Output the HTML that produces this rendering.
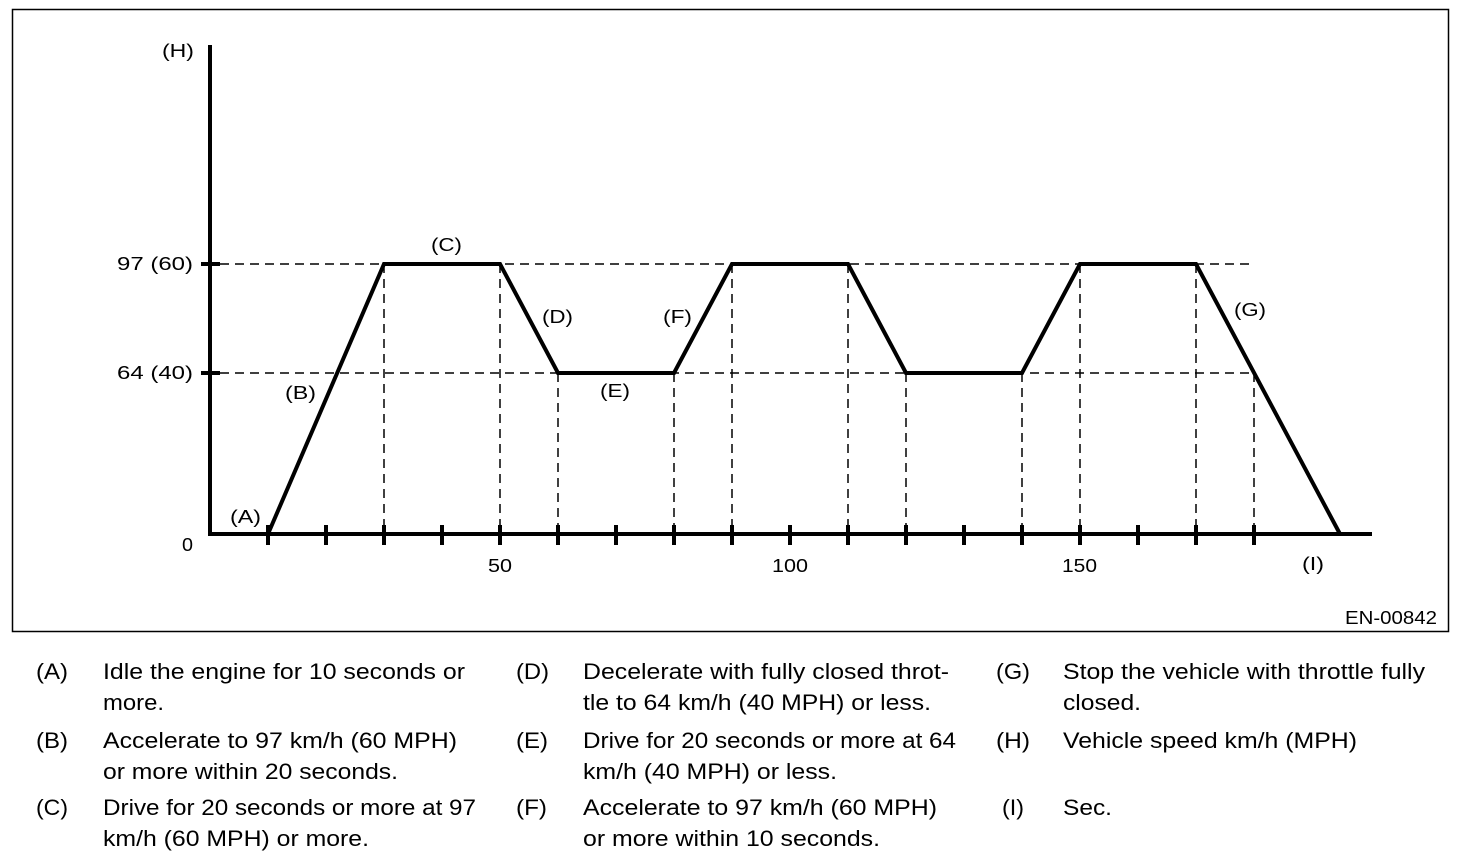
<!DOCTYPE html>
<html><head><meta charset="utf-8"><style>
body{margin:0;background:#fff;width:1472px;height:864px;overflow:hidden;font-family:"Liberation Sans",sans-serif;}
svg{position:absolute;left:0;top:0}
text{font-family:"Liberation Sans",sans-serif;fill:#000}
</style></head><body>
<svg width="1472" height="864" viewBox="0 0 1472 864">
<rect x="12.5" y="9.5" width="1436" height="622" fill="none" stroke="#000" stroke-width="1.5"/>
<g stroke="#000" stroke-width="1.5" stroke-dasharray="9,6" fill="none">
<line x1="220" y1="264" x2="1254" y2="264"/>
<line x1="220" y1="373" x2="1254" y2="373"/>
<line x1="384" y1="264" x2="384" y2="534"/>
<line x1="500" y1="264" x2="500" y2="534"/>
<line x1="558" y1="373" x2="558" y2="534"/>
<line x1="674" y1="373" x2="674" y2="534"/>
<line x1="732" y1="264" x2="732" y2="534"/>
<line x1="848" y1="264" x2="848" y2="534"/>
<line x1="906" y1="373" x2="906" y2="534"/>
<line x1="1022" y1="373" x2="1022" y2="534"/>
<line x1="1080" y1="264" x2="1080" y2="534"/>
<line x1="1196" y1="264" x2="1196" y2="534"/>
<line x1="1254" y1="373" x2="1254" y2="534"/>
</g>
<g stroke="#000" stroke-width="4" fill="none">
<line x1="210" y1="45" x2="210" y2="536"/>
<line x1="208" y1="534" x2="1372" y2="534"/>
<line x1="201" y1="264" x2="220" y2="264"/>
<line x1="201" y1="373" x2="220" y2="373"/>
<path d="M268,525V545M326,525V545M384,525V545M442,525V545M500,525V545M558,525V545M616,525V545M674,525V545M732,525V545M790,525V545M848,525V545M906,525V545M964,525V545M1022,525V545M1080,525V545M1138,525V545M1196,525V545M1254,525V545"/>
<polyline stroke-linejoin="miter" points="268,534 384,264 500,264 558,373 674,373 732,264 848,264 906,373 1022,373 1080,264 1196,264 1340,534"/>
</g>
<g font-size="18">
<text lengthAdjust="spacingAndGlyphs" x="162" y="57" textLength="32">(H)</text>
<text lengthAdjust="spacingAndGlyphs" x="117" y="270" textLength="76">97 (60)</text>
<text lengthAdjust="spacingAndGlyphs" x="117" y="379" textLength="76">64 (40)</text>
<text lengthAdjust="spacingAndGlyphs" x="182" y="551" textLength="11">0</text>
<text lengthAdjust="spacingAndGlyphs" x="488" y="572" textLength="24">50</text>
<text lengthAdjust="spacingAndGlyphs" x="772" y="572" textLength="36">100</text>
<text lengthAdjust="spacingAndGlyphs" x="1062" y="572" textLength="35">150</text>
<text lengthAdjust="spacingAndGlyphs" x="1302" y="570" textLength="22">(I)</text>
<text lengthAdjust="spacingAndGlyphs" x="230" y="523" textLength="31">(A)</text>
<text lengthAdjust="spacingAndGlyphs" x="285" y="399" textLength="31">(B)</text>
<text lengthAdjust="spacingAndGlyphs" x="431" y="251" textLength="31">(C)</text>
<text lengthAdjust="spacingAndGlyphs" x="542" y="323" textLength="31">(D)</text>
<text lengthAdjust="spacingAndGlyphs" x="600" y="397" textLength="30">(E)</text>
<text lengthAdjust="spacingAndGlyphs" x="663" y="323" textLength="29">(F)</text>
<text lengthAdjust="spacingAndGlyphs" x="1234" y="316" textLength="32">(G)</text>
<text lengthAdjust="spacingAndGlyphs" x="1345" y="624" textLength="92">EN-00842</text>
</g>
<g font-size="22">
<text lengthAdjust="spacingAndGlyphs" x="36" y="679" textLength="32">(A)</text>
<text lengthAdjust="spacingAndGlyphs" x="103" y="679" textLength="362">Idle the engine for 10 seconds or</text>
<text lengthAdjust="spacingAndGlyphs" x="103" y="710" textLength="61">more.</text>
<text lengthAdjust="spacingAndGlyphs" x="36" y="748" textLength="32">(B)</text>
<text lengthAdjust="spacingAndGlyphs" x="103" y="748" textLength="354">Accelerate to 97 km/h (60 MPH)</text>
<text lengthAdjust="spacingAndGlyphs" x="103" y="779" textLength="295">or more within 20 seconds.</text>
<text lengthAdjust="spacingAndGlyphs" x="36" y="815" textLength="32">(C)</text>
<text lengthAdjust="spacingAndGlyphs" x="103" y="815" textLength="373">Drive for 20 seconds or more at 97</text>
<text lengthAdjust="spacingAndGlyphs" x="103" y="846" textLength="266">km/h (60 MPH) or more.</text>
<text lengthAdjust="spacingAndGlyphs" x="516" y="679" textLength="33">(D)</text>
<text lengthAdjust="spacingAndGlyphs" x="583" y="679" textLength="366">Decelerate with fully closed throt-</text>
<text lengthAdjust="spacingAndGlyphs" x="583" y="710" textLength="348">tle to 64 km/h (40 MPH) or less.</text>
<text lengthAdjust="spacingAndGlyphs" x="516" y="748" textLength="32">(E)</text>
<text lengthAdjust="spacingAndGlyphs" x="583" y="748" textLength="373">Drive for 20 seconds or more at 64</text>
<text lengthAdjust="spacingAndGlyphs" x="583" y="779" textLength="254">km/h (40 MPH) or less.</text>
<text lengthAdjust="spacingAndGlyphs" x="516" y="815" textLength="31">(F)</text>
<text lengthAdjust="spacingAndGlyphs" x="583" y="815" textLength="354">Accelerate to 97 km/h (60 MPH)</text>
<text lengthAdjust="spacingAndGlyphs" x="583" y="846" textLength="297">or more within 10 seconds.</text>
<text lengthAdjust="spacingAndGlyphs" x="996" y="679" textLength="34">(G)</text>
<text lengthAdjust="spacingAndGlyphs" x="1063" y="679" textLength="362">Stop the vehicle with throttle fully</text>
<text lengthAdjust="spacingAndGlyphs" x="1063" y="710" textLength="78">closed.</text>
<text lengthAdjust="spacingAndGlyphs" x="996" y="748" textLength="34">(H)</text>
<text lengthAdjust="spacingAndGlyphs" x="1063" y="748" textLength="294">Vehicle speed km/h (MPH)</text>
<text lengthAdjust="spacingAndGlyphs" x="1002" y="815" textLength="22">(I)</text>
<text lengthAdjust="spacingAndGlyphs" x="1063" y="815" textLength="49">Sec.</text>
</g>
</svg>
</body></html>
